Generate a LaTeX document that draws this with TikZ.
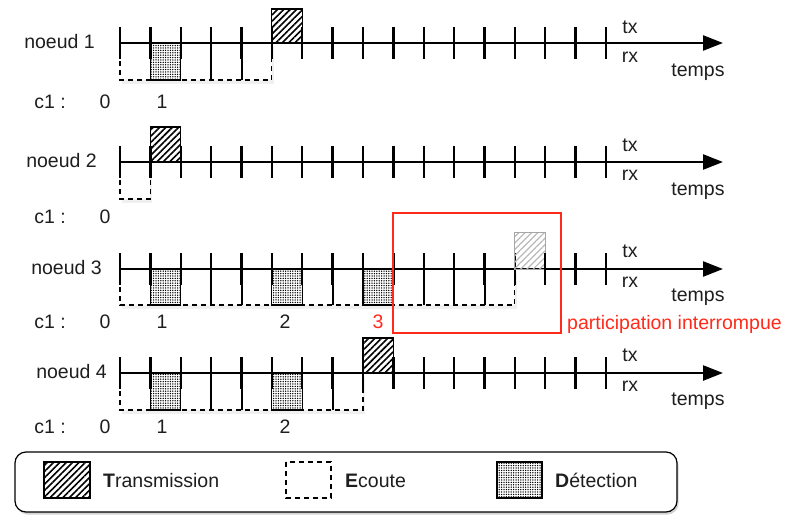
\documentclass[tikz,border=0pt]{standalone}
\usepackage{fontspec}
\setmainfont{Liberation Sans}
\usetikzlibrary{patterns.meta,arrows.meta,shadows}
\definecolor{txt}{HTML}{1E1E1E}
\definecolor{redc}{HTML}{FF2A1A}
\newcommand\slotx[1]{\fpeval{120+30.375*(#1)}}
\begin{document}
\begin{tikzpicture}[x=1pt,y=-1pt,
  every node/.style={font=\fontsize{19.5}{23}\selectfont, text=txt, inner sep=0pt, text height=13.5pt, text depth=3pt},
  axisline/.style={line width=2.4pt, draw=black, -{Triangle[length=20pt,width=15pt]}},
  tickline/.style={line width=2.4pt, draw=black},
  innerline/.style={line width=2pt, draw=black},
  listen/.style={draw=black, dash pattern=on 5pt off 4pt, line width=1.2pt},
  listenshadow/.style={fill=white, draw=none, drop shadow={opacity=0.12, shadow xshift=2pt, shadow yshift=-4pt}},
  trans/.style={draw=black, line width=1.2pt, pattern={Lines[angle=45,distance=4.5pt,line width=1.6pt]}},
  fadedtrans/.style={draw=gray!70, line width=1pt, pattern={Lines[angle=45,distance=4.5pt,line width=1.2pt]}, pattern color=gray!55},
  detect/.style={draw=black, line width=1.2pt, pattern={Dots[radius=0.75pt,distance=2.4pt]}},
  redtext/.style={text=redc},
]
\useasboundingbox (0,0) rectangle (789,516);

% ---------------- noeud 1 (axis y=43) ----------------
\fill[listenshadow] (120,43) rectangle (\slotx{5},80);
\draw[listen] (120,43) rectangle (\slotx{5},80);
\draw[detect] (\slotx{1},43) rectangle (\slotx{2},80);
\foreach \i in {3,4} \draw[innerline] (\slotx{\i},43) -- (\slotx{\i},80);
\coordinate (a1s) at (120,43); \coordinate (a1e) at (723,43);
\draw[axisline] (a1s) -- (a1e);
\foreach \i in {0,...,16} \draw[tickline] (\slotx{\i},27) -- (\slotx{\i},59);
\draw[trans] (\slotx{5},9) rectangle (\slotx{6},43);
\node[anchor=east] (n1) at (95,43) {noeud 1};
\node (tx1) at (630,28) {tx};
\node (rx1) at (630,57) {rx};
\node (tp1) at (698,71) {temps};
\node (c1a) at (50,103) {c1 :};
\node (c1a0) at (105,103) {0};
\node (c1a1) at (162,103) {1};

% ---------------- noeud 2 (axis y=162) ----------------
\fill[listenshadow] (120,162) rectangle (\slotx{1},199);
\draw[listen] (120,162) rectangle (\slotx{1},199);
\coordinate (a2s) at (120,162); \coordinate (a2e) at (723,162);
\draw[axisline] (a2s) -- (a2e);
\foreach \i in {0,...,16} \draw[tickline] (\slotx{\i},146) -- (\slotx{\i},178);
\draw[trans] (\slotx{1},127) rectangle (\slotx{2},162);
\node[anchor=east] (n2) at (97,162) {noeud 2};
\node (tx2) at (630,146) {tx};
\node (rx2) at (630,175) {rx};
\node (tp2) at (698,190) {temps};
\node (c1b) at (50,218) {c1 :};
\node (c1b0) at (105,218) {0};

% ---------------- noeud 3 (axis y=269) ----------------
\fill[listenshadow] (120,269) rectangle (\slotx{13},305);
\draw[listen] (120,269) rectangle (\slotx{13},305);
\foreach \k in {1,5,8} \draw[detect] (\slotx{\k},269) rectangle (\slotx{\k+1},305);
\foreach \i in {3,4,7,10,11,12} \draw[innerline] (\slotx{\i},269) -- (\slotx{\i},305);
\coordinate (a3s) at (120,269); \coordinate (a3e) at (723,269);
\draw[axisline] (a3s) -- (a3e);
\foreach \i in {0,...,16} \draw[tickline] (\slotx{\i},253) -- (\slotx{\i},285);
\draw[fadedtrans] (\slotx{13},232) rectangle (\slotx{14},269);
\draw[tickline] (\slotx{14},253) -- (\slotx{14},285);
\node[anchor=east] (n3) at (102,269) {noeud 3};
\node (tx3) at (630,252) {tx};
\node (rx3) at (630,282) {rx};
\node (tp3) at (698,296) {temps};
\node (c1c) at (50,323) {c1 :};
\node (c1c0) at (105,323) {0};
\node (c1c1) at (162,323) {1};
\node (c1c2) at (285,323) {2};
\node[redtext] (c1c3) at (378,323) {3};
\draw[redc, line width=2pt] (393,213) rectangle (561,333);
\node[redtext, anchor=west] (part) at (567,324) {participation interrompue};

% ---------------- noeud 4 (axis y=373) ----------------
\fill[listenshadow] (120,373) rectangle (\slotx{8},410);
\draw[listen] (120,373) rectangle (\slotx{8},410);
\foreach \k in {1,5} \draw[detect] (\slotx{\k},373) rectangle (\slotx{\k+1},410);
\foreach \i in {3,4,7} \draw[innerline] (\slotx{\i},373) -- (\slotx{\i},410);
\coordinate (a4s) at (120,373); \coordinate (a4e) at (723,373);
\draw[axisline] (a4s) -- (a4e);
\foreach \i in {0,...,16} \draw[tickline] (\slotx{\i},357) -- (\slotx{\i},389);
\draw[trans] (\slotx{8},338) rectangle (\slotx{9},373);
\node[anchor=east] (n4) at (107,373) {noeud 4};
\node (tx4) at (630,356) {tx};
\node (rx4) at (630,386) {rx};
\node (tp4) at (698,400) {temps};
\node (c1d) at (50,428) {c1 :};
\node (c1d0) at (105,428) {0};
\node (c1d1) at (162,428) {1};
\node (c1d2) at (285,428) {2};

% ---------------- legend ----------------
\node[draw=black, line width=1.2pt, rounded corners=11pt, fill=white,
      minimum width=662pt, minimum height=60pt, text height=, text depth=,
      drop shadow={opacity=0.35, shadow xshift=1.5pt, shadow yshift=-2.5pt}] (legend) at (346,482) {};
\draw[trans] (44,462) rectangle (90,498);
\node[anchor=west] (lt) at (103,482) {\textbf{T}ransmission};
\draw[listen] (286,462) rectangle (331,498);
\node[anchor=west] (le) at (345,482) {\textbf{E}coute};
\draw[detect] (497,462) rectangle (542,498);
\node[anchor=west] (ld) at (555,482) {\textbf{D}étection};
\end{tikzpicture}
\end{document}
